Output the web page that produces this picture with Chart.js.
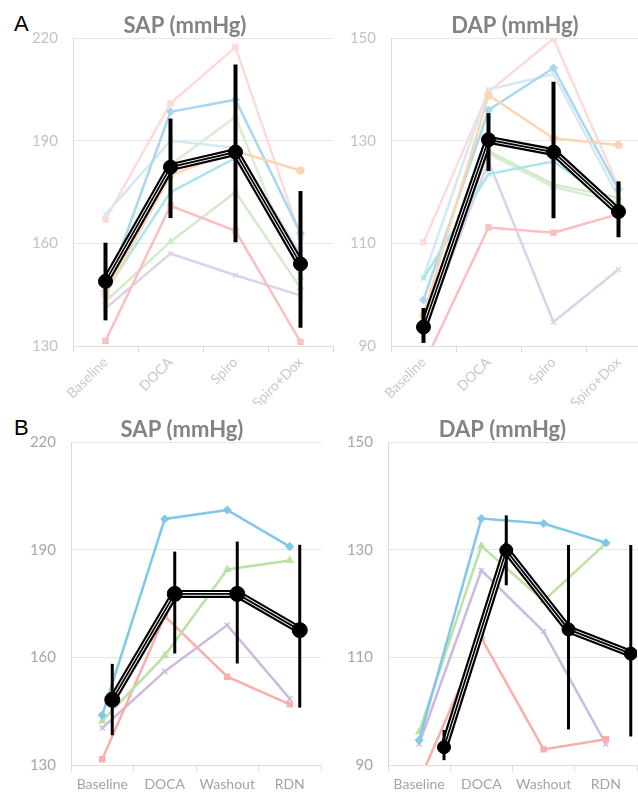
<!DOCTYPE html>
<html>
<head>
<meta charset="utf-8">
<script src="https://cdn.jsdelivr.net/npm/chart.js@4"></script>
<style>
  body { margin: 0; width: 638px; height: 794px; overflow: hidden; background: #fff; position: relative; }
  canvas { position: absolute; }
  .tag { position: absolute; font: 22px "Liberation Sans", Arial, sans-serif; line-height: 1; color: #000; }
</style>
</head>
<body>
<div class="tag" style="left:14px;top:13px">A</div>
<div class="tag" style="left:14px;top:417px">B</div>
<canvas id="aSap" width="370" height="405" style="left:0;top:0"></canvas>
<canvas id="aDap" width="394" height="405" style="left:318px;top:0"></canvas>
<canvas id="bSap" width="364" height="400" style="left:0;top:394px"></canvas>
<canvas id="bDap" width="369" height="400" style="left:318px;top:394px"></canvas>
<script>
const catsA = ['Baseline', 'DOCA', 'Spiro', 'Spiro+Dox'];
const catsB = ['Baseline', 'DOCA', 'Washout', 'RDN'];

// A - SAP
const aSapMean = [148.9, 182.3, 186.7, 154];
const aSapLow = [137.5, 167.4, 160.3, 135.3];
const aSapHigh = [160.2, 196.5, 212.3, 175.3];
const aSapPink = [167, 201, 217.4, 162];
const aSapBlue = [146, 198.5, 202, 163];
const aSapSky = [168.5, 190, 188, 157];
const aSapGreen = [143, 160.5, 175, 147];
const aSapLime = [145, 183, 197, 150];
const aSapOrange = [145, 180, 187, 181.3];
const aSapPurple = [141, 157, 150.7, 144.8];
const aSapRed = [131.5, 171, 163.7, 131.2];
const aSapCyan = [146, 175, 185, 156];

// A - DAP
const aDapMean = [93.7, 130.2, 127.8, 116.2];
const aDapLow = [90.6, 124.1, 114.9, 111.2];
const aDapHigh = [97.4, 135.4, 141.5, 122.1];
const aDapPink = [110.2, 139.5, 149.9, 121];
const aDapBlue = [99, 136, 144.2, 120.5];
const aDapSky = [103.4, 140, 143, 119];
const aDapGreen = [95, 128, 121.5, 118.9];
const aDapLime = [96, 127.5, 121, 118];
const aDapOrange = [96, 138.9, 130.5, 129.2];
const aDapPurple = [93, 126, 94.7, 104.9];
const aDapRed = [86.3, 113.1, 112.1, 115.7];
const aDapCyan = [103.2, 123.5, 126, 117];

// B - SAP
const bSapMean = [148.2, 177.7, 177.7, 167.6];
const bSapLow = [138.3, 161.1, 158.3, 146];
const bSapHigh = [158.2, 189.5, 192.3, 191.4];
const bSapBlue = [143.9, 198.6, 201.1, 190.9];
const bSapGreen = [142.3, 160.5, 184.5, 187];
const bSapPink = [131.6, 171.5, 154.6, 146.9];
const bSapPurple = [140.3, 156.1, 169, 148.5];

// B - DAP
const bDapMean = [93.3, 129.9, 115.2, 110.7];
const bDapLow = [90.9, 123.4, 96.6, 95.3];
const bDapHigh = [96.5, 136.4, 130.9, 130.9];
const bDapBlue = [94.6, 135.8, 134.9, 131.3];
const bDapGreen = [96.2, 130.7, 120.5, 131.2];
const bDapPink = [87, 113.6, 92.9, 94.8];
const bDapPurple = [93.9, 126.2, 114.8, 93.9];

const sapTicks = [130, 160, 190, 220];
const dapTicks = [90, 110, 130, 150];

const pts = (vals, shift) => vals.map((v, i) => ({ x: i + shift, y: v }));

function line(vals, color, style) {
  return {
    data: pts(vals, 0), borderColor: color, backgroundColor: color, borderWidth: 2.5,
    pointStyle: style, pointRadius: 3.5, pointBorderWidth: 1.5
  };
}

// the mean is a compound black/white/black line with big dots on top
function meanSets(vals, shift, r) {
  const d = pts(vals, shift);
  return [
    { data: d, showLine: false, pointRadius: r, backgroundColor: '#000', borderColor: '#000' },
    { data: d, borderColor: '#000', borderWidth: 1.8, pointRadius: 0 },
    { data: d, borderColor: '#fff', borderWidth: 3.6, pointRadius: 0 },
    { data: d, borderColor: '#000', borderWidth: 8, pointRadius: 0 }
  ];
}

const errorBars = {
  id: 'errorBars',
  afterDatasetsDraw(chart, args, o) {
    const { ctx, scales: { x, y } } = chart;
    ctx.save();
    ctx.strokeStyle = '#000';
    ctx.lineWidth = o.width;
    o.low.forEach((lo, i) => {
      const px = x.getPixelForValue(i + o.shift);
      ctx.beginPath();
      ctx.moveTo(px, y.getPixelForValue(lo));
      ctx.lineTo(px, y.getPixelForValue(o.high[i]));
      ctx.stroke();
    });
    ctx.restore();
  }
};

function makeChart(id, o) {
  new Chart(document.getElementById(id), {
    type: 'line',
    data: { datasets: [...meanSets(o.mean, o.shift, o.r), ...o.series] },
    plugins: [errorBars],
    options: {
      responsive: false,
      animation: false,
      layout: { padding: 0 },
      plugins: {
        legend: { display: false },
        tooltip: { enabled: false },
        title: {
          display: true, text: o.title, color: '#838383',
          font: { family: 'Lato', size: 22, weight: 'bold', lineHeight: 1.1 },
          padding: { top: o.titleTop, bottom: 0 }
        },
        errorBars: { low: o.low, high: o.high, shift: o.shift, width: o.errW }
      },
      scales: {
        x: {
          type: 'linear', min: -0.5, max: 3.5,
          afterBuildTicks: s => { s.ticks = [-0.5, 0, 0.5, 1, 1.5, 2, 2.5, 3, 3.5].map(v => ({ value: v })); },
          afterFit: s => { s.height = o.xH; s.paddingLeft = 0; s.paddingRight = 0; },
          ticks: {
            autoSkip: false, minRotation: o.rot, maxRotation: o.rot, padding: o.xPad,
            color: o.xColor, font: { family: 'Lato', size: 14 },
            callback: v => Number.isInteger(v) ? o.cats[v] : ''
          },
          grid: {
            drawOnChartArea: false, tickLength: 6,
            color: c => Number.isInteger(c.tick.value) ? 'rgba(0,0,0,0)' : '#d9d9d9'
          },
          border: { display: true, color: '#dedede' }
        },
        y: {
          min: o.yTicks[0], max: o.yTicks[o.yTicks.length - 1],
          afterBuildTicks: s => { s.ticks = o.yTicks.map(v => ({ value: v })); },
          afterFit: s => { s.width = o.yW; },
          ticks: { padding: 15, color: o.yColor, font: { family: 'Lato', size: 15 } },
          grid: { color: '#e6e6e6', drawTicks: false },
          border: { display: true, color: '#d9d9d9' }
        },
        // empty right box, only there so the title sits where it does in the figure
        yR: {
          position: 'right',
          afterFit: s => { s.width = o.spacer; },
          ticks: { display: false },
          grid: { display: false },
          border: { display: false }
        }
      }
    }
  });
}

const fadeA = {
  pink: '#fddcd8', blue: '#a9d7ee', sky: '#d5e9f5', green: '#d3eacb', lime: '#d9eed0',
  orange: '#fdd5b0', purple: '#ddd1ea', red: '#fabfbf', cyan: '#a8e5ee'
};

makeChart('aSap', {
  title: 'SAP (mmHg)', cats: catsA, yTicks: sapTicks, mean: aSapMean, low: aSapLow, high: aSapHigh,
  shift: 0, r: 7, errW: 4, yW: 73, spacer: 37, xH: 59, titleTop: 14, rot: 45, xPad: 2,
  xColor: '#c9c9c9', yColor: '#c2c2c2',
  series: [
    line(aSapOrange, fadeA.orange, 'circle'),
    line(aSapCyan, fadeA.cyan, 'crossRot'),
    line(aSapBlue, fadeA.blue, 'rectRot'),
    line(aSapRed, fadeA.red, 'rect'),
    line(aSapGreen, fadeA.green, 'triangle'),
    line(aSapPurple, fadeA.purple, 'crossRot'),
    line(aSapLime, fadeA.lime, 'triangle'),
    line(aSapSky, fadeA.sky, 'crossRot'),
    line(aSapPink, fadeA.pink, 'rect')
  ]
});

makeChart('aDap', {
  title: 'DAP (mmHg)', cats: catsA, yTicks: dapTicks, mean: aDapMean, low: aDapLow, high: aDapHigh,
  shift: 0, r: 7, errW: 4, yW: 73, spacer: 61, xH: 59, titleTop: 14, rot: 45, xPad: 2,
  xColor: '#c9c9c9', yColor: '#c2c2c2',
  series: [
    line(aDapOrange, fadeA.orange, 'circle'),
    line(aDapCyan, fadeA.cyan, 'crossRot'),
    line(aDapBlue, fadeA.blue, 'rectRot'),
    line(aDapRed, fadeA.red, 'rect'),
    line(aDapGreen, fadeA.green, 'triangle'),
    line(aDapPurple, fadeA.purple, 'crossRot'),
    line(aDapLime, fadeA.lime, 'triangle'),
    line(aDapSky, fadeA.sky, 'crossRot'),
    line(aDapPink, fadeA.pink, 'rect')
  ]
});

makeChart('bSap', {
  title: 'SAP (mmHg)', cats: catsB, yTicks: sapTicks, mean: bSapMean, low: bSapLow, high: bSapHigh,
  shift: 0.16, r: 7.5, errW: 3, yW: 71, spacer: 43, xH: 29, titleTop: 24, rot: 0, xPad: 5,
  xColor: '#a3a3a3', yColor: '#a6a6a6',
  series: [
    line(bSapBlue, '#7fc8e9', 'rectRot'),
    line(bSapGreen, '#bbe2a6', 'triangle'),
    line(bSapPink, '#f9aeac', 'rect'),
    line(bSapPurple, '#cdb9de', 'crossRot')
  ]
});

makeChart('bDap', {
  title: 'DAP (mmHg)', cats: catsB, yTicks: dapTicks, mean: bDapMean, low: bDapLow, high: bDapHigh,
  shift: 0.4, r: 6.5, errW: 3, yW: 70, spacer: 50, xH: 29, titleTop: 24, rot: 0, xPad: 5,
  xColor: '#a3a3a3', yColor: '#a6a6a6',
  series: [
    line(bDapBlue, '#7fc8e9', 'rectRot'),
    line(bDapGreen, '#bbe2a6', 'triangle'),
    line(bDapPink, '#f9aeac', 'rect'),
    line(bDapPurple, '#cdb9de', 'crossRot')
  ]
});
</script>
</body>
</html>
